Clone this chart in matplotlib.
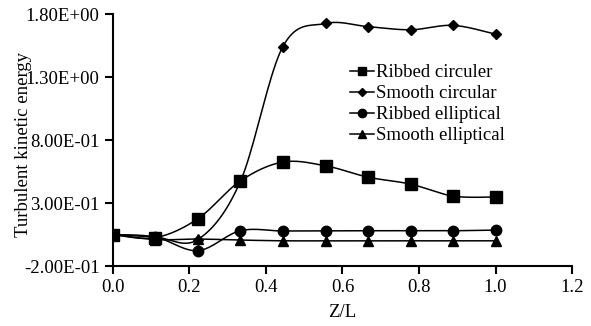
import numpy as np
import matplotlib
matplotlib.use("Agg")
import matplotlib.pyplot as plt
from matplotlib.ticker import FuncFormatter

# data (Z/L positions and turbulent kinetic energy)
z_l = [0.0, 0.111, 0.222, 0.333, 0.444, 0.556, 0.667, 0.778, 0.889, 1.0]
ribbed_circular = [0.05, 0.025, 0.175, 0.475, 0.625, 0.595, 0.505, 0.45, 0.355, 0.348]
smooth_circular = [0.05, 0.03, 0.01, 0.47, 1.54, 1.725, 1.70, 1.675, 1.71, 1.64]
ribbed_elliptical = [0.05, 0.03, -0.078, 0.08, 0.078, 0.08, 0.08, 0.08, 0.08, 0.085]
smooth_elliptical = [0.05, 0.01, 0.014, 0.006, 0.0, 0.0, 0.0, 0.0, 0.0, 0.0]
labels = ["Ribbed circuler", "Smooth circular", "Ribbed elliptical", "Smooth elliptical"]
x_ticks = [0.0, 0.2, 0.4, 0.6, 0.8, 1.0, 1.2]
y_ticks = [-0.2, 0.3, 0.8, 1.3, 1.8]
markers = ["s", "D", "o", "^"]
msizes = [8, 5, 7.5, 7.5]

plt.rcParams['font.family'] = ['Liberation Serif', 'DejaVu Serif']


def smooth_line(x, y, n=20):
    # Excel style smoothed line (Catmull-Rom bezier between the points)
    p = np.column_stack([x, y])
    pts = []
    for i in range(len(p) - 1):
        p0 = p[i - 1] if i > 0 else p[i]
        p1 = p[i]
        p2 = p[i + 1]
        p3 = p[i + 2] if i + 2 < len(p) else p[i + 1]
        c1 = p1 + (p2 - p0) / 6
        c2 = p2 - (p3 - p1) / 6
        t = np.linspace(0, 1, n)[:, None]
        seg = (1 - t) ** 3 * p1 + 3 * (1 - t) ** 2 * t * c1 + 3 * (1 - t) * t ** 2 * c2 + t ** 3 * p2
        pts.append(seg if i == 0 else seg[1:])
    pts = np.vstack(pts)
    return pts[:, 0], pts[:, 1]


fig = plt.figure(figsize=(5.91, 3.26), dpi=100)
ax = fig.add_axes([0.191, 0.184, 0.777, 0.773])

series = [ribbed_circular, smooth_circular, ribbed_elliptical, smooth_elliptical]
for vals, lab, mk, ms in zip(series, labels, markers, msizes):
    sx, sy = smooth_line(z_l, vals)
    ax.plot(sx, sy, color="black", lw=1.1)
    ax.plot(z_l, vals, ls="none", marker=mk, ms=ms, color="black")
    ax.plot([], [], color="black", lw=1.1, marker=mk, ms=ms, label=lab)

ax.set_xlim(0, 1.2)
ax.set_ylim(-0.2, 1.8)
ax.set_xticks(x_ticks)
ax.set_yticks(y_ticks)
ax.xaxis.set_major_formatter(FuncFormatter(lambda v, p: "%.1f" % v))
ax.yaxis.set_major_formatter(FuncFormatter(lambda v, p: "%.2E" % v))
ax.spines["top"].set_visible(False)
ax.spines["right"].set_visible(False)
ax.spines["left"].set_linewidth(1.5)
ax.spines["bottom"].set_linewidth(1.5)
ax.tick_params(direction="out", length=6, width=1.5, labelsize=13.5, colors="black")

ax.set_xlabel("Z/L", fontsize=13.5)
ax.xaxis.set_label_coords(0.499, -0.15)
ax.set_ylabel("Turbulent kinetic energy", fontsize=13.5)
ax.yaxis.set_label_coords(-0.176, 0.484)

ax.legend(loc="upper left", bbox_to_anchor=(0.499, 0.83), frameon=False, fontsize=13.5,
          handlelength=1.3, handletextpad=0.1, labelspacing=0.2, borderaxespad=0,
          markerscale=0.8)

fig.savefig("out.png", dpi=100)
